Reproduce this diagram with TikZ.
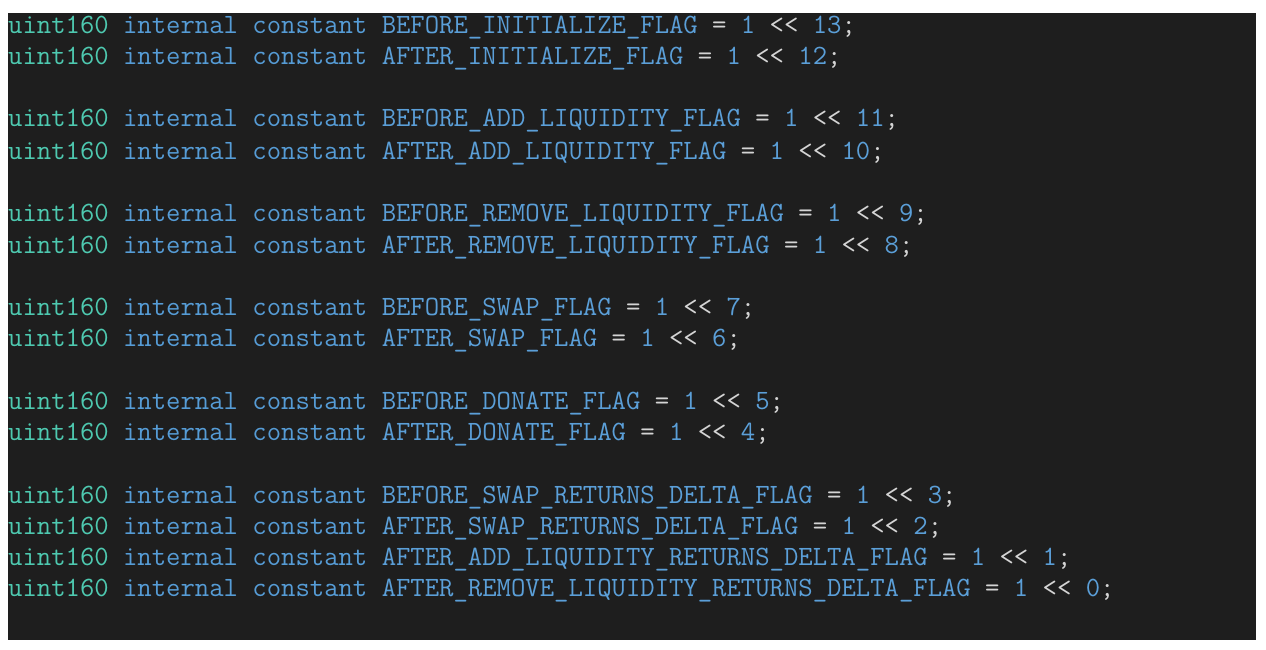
\documentclass[tikz,border=0pt]{standalone}
\usepackage{fontspec}
\definecolor{bg}{HTML}{1E1E1E}
\definecolor{ty}{HTML}{4EC9B0}
\definecolor{kw}{HTML}{569CD6}
\definecolor{id}{HTML}{5B9FD8}
\definecolor{op}{HTML}{D4D4D4}
\newcommand{\cl}[2]{{\color{ty}uint160} {\color{kw}internal constant} {\color{id}#1} {\color{op}=} {\color{id}1} {\color{op}<<} {\color{id}#2}{\color{op};}}
\tikzset{codeline/.style={anchor=base west,inner sep=0pt,font=\fontsize{27.9}{27.9}\ttfamily}}
\begin{document}
\begin{tikzpicture}[x=1pt,y=-1pt]
\useasboundingbox (0,0) rectangle (1266,650);
\fill[bg] (8,13) rectangle (1256,640);
\node[codeline] (l1) at (8,34) {\cl{BEFORE\_INITIALIZE\_FLAG}{13}};
\node[codeline] (l2) at (8,65) {\cl{AFTER\_INITIALIZE\_FLAG}{12}};
\node[codeline] (l3) at (8,127) {\cl{BEFORE\_ADD\_LIQUIDITY\_FLAG}{11}};
\node[codeline] (l4) at (8,159) {\cl{AFTER\_ADD\_LIQUIDITY\_FLAG}{10}};
\node[codeline] (l5) at (8,221) {\cl{BEFORE\_REMOVE\_LIQUIDITY\_FLAG}{9}};
\node[codeline] (l6) at (8,253) {\cl{AFTER\_REMOVE\_LIQUIDITY\_FLAG}{8}};
\node[codeline] (l7) at (8,315) {\cl{BEFORE\_SWAP\_FLAG}{7}};
\node[codeline] (l8) at (8,346) {\cl{AFTER\_SWAP\_FLAG}{6}};
\node[codeline] (l9) at (8,409) {\cl{BEFORE\_DONATE\_FLAG}{5}};
\node[codeline] (l10) at (8,440) {\cl{AFTER\_DONATE\_FLAG}{4}};
\node[codeline] (l11) at (8,503) {\cl{BEFORE\_SWAP\_RETURNS\_DELTA\_FLAG}{3}};
\node[codeline] (l12) at (8,534) {\cl{AFTER\_SWAP\_RETURNS\_DELTA\_FLAG}{2}};
\node[codeline] (l13) at (8,565) {\cl{AFTER\_ADD\_LIQUIDITY\_RETURNS\_DELTA\_FLAG}{1}};
\node[codeline] (l14) at (8,596) {\cl{AFTER\_REMOVE\_LIQUIDITY\_RETURNS\_DELTA\_FLAG}{0}};
\end{tikzpicture}
\end{document}
